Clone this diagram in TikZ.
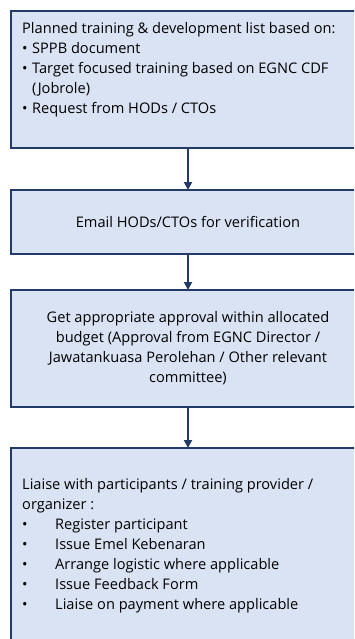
\documentclass[tikz,border=0pt]{standalone}
\usepackage{fontspec}
\setmainfont{Open Sans}
\usetikzlibrary{arrows.meta,positioning}
\definecolor{boxfill}{HTML}{DAE3F3}
\definecolor{boxline}{HTML}{223A66}
\tikzset{
 box/.style={draw=boxline,fill=boxfill,line width=2pt,outer sep=0pt,inner sep=0pt,
  minimum width=354pt,anchor=north west,font=\fontsize{14.6}{20}\selectfont},
 txt/.style={inner sep=0pt,anchor=north west,align=left,font=\fontsize{14.6}{20}\selectfont},
 flow/.style={-{Triangle[length=8pt,width=8pt]},line width=2pt,draw=boxline}
}
\newcommand{\bul}[1]{\makebox[#1][l]{\textbullet}}
\begin{document}
\begin{tikzpicture}
 \useasboundingbox (0,0) rectangle (354pt,-639pt);
 \clip (0,0) rectangle (354pt,-639pt);

 \node[box,minimum height=137pt] (A) at (11pt,-11pt) {};
 \node[txt] (At) at ([xshift=11pt,yshift=-11pt]A.north west) {Planned training \& development list based on:\\
  \bul{10pt}SPPB document\\
  \bul{10pt}Target focused training based on EGNC CDF\\
  \hspace*{10pt}(Jobrole)\\
  \bul{10pt}Request from HODs / CTOs};

 \node[box,minimum height=64pt] (B) at (11pt,-190pt) {Email HODs/CTOs for verification};

 \node[box,minimum height=117pt,align=center] (C) at (11pt,-290pt) {Get appropriate approval within allocated\\
  budget (Approval from EGNC Director /\\
  Jawatankuasa Perolehan / Other relevant\\
  committee)};

 \node[box,minimum height=220pt] (D) at (11pt,-448pt) {};
 \node[txt] (Dt) at ([xshift=11pt,yshift=-30.5pt]D.north west) {Liaise with participants / training provider /\\
  organizer :\\
  \bul{33pt}Register participant\\
  \bul{33pt}Issue Emel Kebenaran\\
  \bul{33pt}Arrange logistic where applicable\\
  \bul{33pt}Issue Feedback Form\\
  \bul{33pt}Liaise on payment where applicable};

 \draw[flow] (A) -- (B);
 \draw[flow] (B) -- (C);
 \draw[flow] (C) -- (D);
\end{tikzpicture}
\end{document}
